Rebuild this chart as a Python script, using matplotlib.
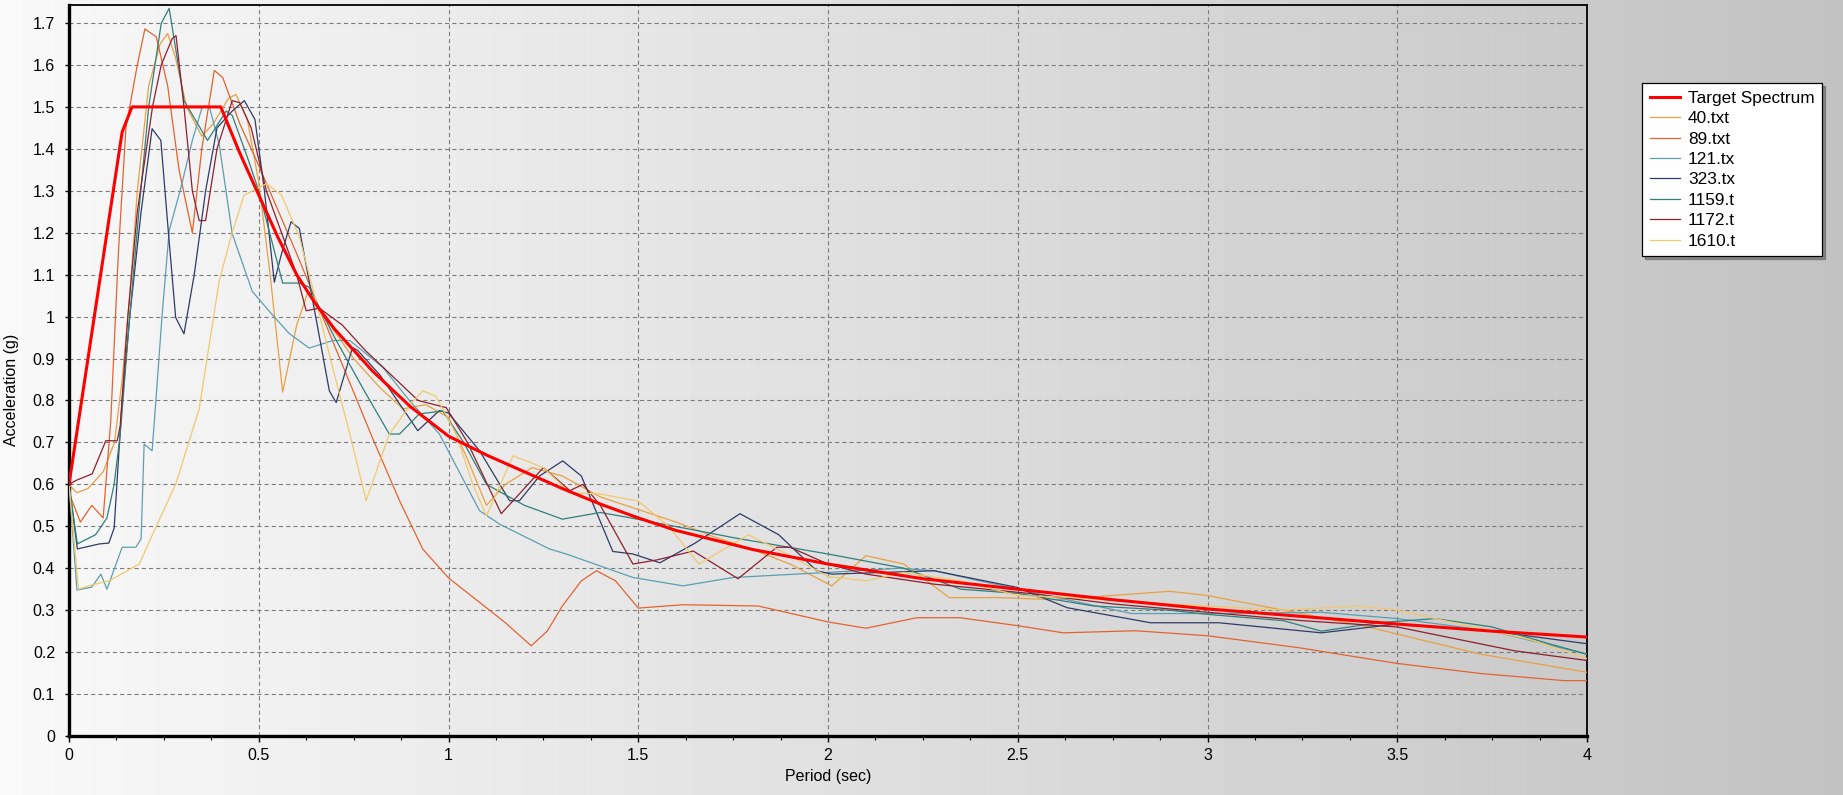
import numpy as np
import matplotlib
matplotlib.use("Agg")
import matplotlib.pyplot as plt
from matplotlib.lines import Line2D

# ── Data ──────────────────────────────────────────────────────────────────────
T_TARGET  = [0.0, 0.14, 0.166, 0.40, 0.45, 0.50, 0.55, 0.60, 0.65, 0.70, 0.75, 0.80, 0.90,
             1.00, 1.10, 1.20, 1.30, 1.40, 1.50, 1.60, 1.80, 2.00, 2.25, 2.50, 2.75, 3.00,
             3.25, 3.50, 3.75, 4.00]
SA_TARGET = [0.60, 1.44, 1.50, 1.50, 1.39, 1.29, 1.19, 1.10, 1.03, 0.97, 0.92, 0.87, 0.785,
             0.715, 0.67, 0.63, 0.59, 0.553, 0.52, 0.49, 0.445, 0.41, 0.375, 0.35, 0.325, 0.303,
             0.285, 0.267, 0.25, 0.236]

T_40  = [0.0, 0.02, 0.05, 0.09, 0.12, 0.14, 0.16, 0.18, 0.21, 0.24, 0.26, 0.28, 0.31, 0.35, 0.38,
         0.42, 0.44, 0.47, 0.50, 0.53, 0.563, 0.60, 0.63, 0.68, 0.75, 0.82, 0.88, 0.94, 1.00, 1.05,
         1.10, 1.15, 1.22, 1.30, 1.40, 1.50, 1.60, 1.70, 1.80, 1.90, 2.01, 2.10, 2.20, 2.32, 2.45,
         2.60, 2.75, 2.90, 3.00, 3.20, 3.40, 3.50, 3.72, 3.85, 4.00]
SA_40 = [0.60, 0.58, 0.59, 0.63, 0.70, 0.85, 1.05, 1.30, 1.55, 1.65, 1.675, 1.62, 1.50, 1.43, 1.46,
         1.52, 1.53, 1.47, 1.32, 1.10, 0.82, 0.98, 1.06, 0.99, 0.90, 0.83, 0.78, 0.79, 0.76, 0.66,
         0.55, 0.60, 0.64, 0.62, 0.57, 0.54, 0.51, 0.475, 0.445, 0.41, 0.358, 0.43, 0.41, 0.33, 0.33,
         0.325, 0.335, 0.345, 0.335, 0.30, 0.265, 0.243, 0.195, 0.175, 0.152]

T_89  = [0.0, 0.03, 0.06, 0.09, 0.11, 0.13, 0.15, 0.18, 0.20, 0.23, 0.26, 0.29, 0.325, 0.35, 0.383,
         0.405, 0.45, 0.50, 0.60, 0.70, 0.80, 0.871, 0.932, 1.00, 1.08, 1.15, 1.218, 1.26, 1.30,
         1.35, 1.39, 1.44, 1.50, 1.618, 1.816, 2.00, 2.10, 2.234, 2.348, 2.50, 2.62, 2.81, 3.00,
         3.237, 3.50, 3.72, 3.94, 4.00]
SA_89 = [0.58, 0.51, 0.55, 0.52, 0.75, 1.15, 1.45, 1.60, 1.686, 1.667, 1.55, 1.35, 1.20, 1.40, 1.587,
         1.57, 1.46, 1.36, 1.15, 0.93, 0.71, 0.561, 0.446, 0.377, 0.32, 0.27, 0.215, 0.25, 0.31,
         0.37, 0.394, 0.37, 0.305, 0.313, 0.31, 0.272, 0.257, 0.282, 0.282, 0.263, 0.246, 0.251,
         0.239, 0.211, 0.173, 0.149, 0.132, 0.132]

T_121  = [0.0, 0.021, 0.06, 0.084, 0.10, 0.14, 0.176, 0.19, 0.198, 0.219, 0.229, 0.245, 0.264,
          0.295, 0.325, 0.351, 0.37, 0.396, 0.43, 0.483, 0.54, 0.58, 0.633, 0.695, 0.74, 0.827,
          0.897, 0.976, 1.082, 1.135, 1.266, 1.31, 1.486, 1.618, 1.75, 2.00, 2.19, 2.28, 2.50,
          2.80, 3.03, 3.30, 3.50, 3.75, 4.00]
SA_121 = [0.60, 0.348, 0.355, 0.386, 0.35, 0.45, 0.45, 0.47, 0.696, 0.68, 0.80, 1.00, 1.205,
          1.308, 1.42, 1.50, 1.50, 1.41, 1.198, 1.06, 1.00, 0.96, 0.925, 0.943, 0.943, 0.879,
          0.80, 0.72, 0.537, 0.505, 0.446, 0.434, 0.378, 0.358, 0.378, 0.39, 0.40, 0.394, 0.35,
          0.292, 0.292, 0.295, 0.28, 0.25, 0.195]

T_323  = [0.0, 0.022, 0.08, 0.105, 0.119, 0.14, 0.16, 0.19, 0.219, 0.242, 0.262, 0.281, 0.303,
          0.33, 0.36, 0.39, 0.43, 0.462, 0.49, 0.515, 0.541, 0.56, 0.585, 0.607, 0.65, 0.686,
          0.704, 0.747, 0.76, 0.82, 0.871, 0.919, 0.976, 1.00, 1.082, 1.161, 1.187, 1.24, 1.301,
          1.35, 1.433, 1.486, 1.557, 1.65, 1.768, 1.87, 1.97, 2.01, 2.28, 2.50, 2.63, 2.85, 3.03,
          3.30, 3.50, 3.75, 4.00]
SA_323 = [0.60, 0.446, 0.458, 0.46, 0.496, 0.80, 1.00, 1.25, 1.448, 1.42, 1.20, 0.998, 0.959,
          1.10, 1.30, 1.45, 1.49, 1.515, 1.47, 1.30, 1.082, 1.15, 1.226, 1.21, 1.00, 0.823,
          0.795, 0.926, 0.92, 0.86, 0.792, 0.728, 0.776, 0.77, 0.68, 0.561, 0.561, 0.62, 0.656,
          0.62, 0.44, 0.434, 0.413, 0.46, 0.53, 0.48, 0.394, 0.386, 0.394, 0.354, 0.306, 0.27,
          0.27, 0.246, 0.267, 0.25, 0.22]

T_1159  = [0.0, 0.022, 0.07, 0.10, 0.119, 0.135, 0.16, 0.185, 0.21, 0.243, 0.264, 0.303, 0.365,
           0.414, 0.43, 0.47, 0.50, 0.563, 0.607, 0.633, 0.70, 0.78, 0.844, 0.871, 0.923, 0.985,
           1.04, 1.10, 1.20, 1.30, 1.40, 1.48, 1.66, 1.75, 2.00, 2.20, 2.35, 2.50, 2.70, 2.90,
           3.00, 3.20, 3.30, 3.45, 3.60, 3.75, 3.90, 4.00]
SA_1159 = [0.60, 0.458, 0.48, 0.52, 0.60, 0.72, 1.00, 1.26, 1.50, 1.699, 1.735, 1.515, 1.42,
           1.49, 1.48, 1.38, 1.30, 1.08, 1.08, 1.07, 0.95, 0.82, 0.72, 0.72, 0.768, 0.775,
           0.70, 0.60, 0.55, 0.517, 0.533, 0.52, 0.489, 0.473, 0.434, 0.40, 0.35, 0.34, 0.31,
           0.30, 0.29, 0.275, 0.25, 0.27, 0.28, 0.26, 0.22, 0.195]

T_1172  = [0.0, 0.02, 0.061, 0.097, 0.127, 0.135, 0.155, 0.18, 0.22, 0.243, 0.272, 0.282, 0.303,
           0.325, 0.343, 0.36, 0.39, 0.43, 0.45, 0.48, 0.52, 0.56, 0.60, 0.625, 0.66, 0.72, 0.78,
           0.85, 0.92, 0.994, 1.05, 1.139, 1.25, 1.32, 1.354, 1.40, 1.486, 1.55, 1.645, 1.763,
           1.865, 1.90, 2.00, 2.10, 2.28, 2.53, 2.75, 3.00, 3.25, 3.50, 3.81, 4.00]
SA_1172 = [0.60, 0.61, 0.625, 0.704, 0.704, 0.74, 1.00, 1.25, 1.50, 1.60, 1.663, 1.67, 1.50,
           1.30, 1.229, 1.229, 1.40, 1.515, 1.51, 1.45, 1.30, 1.20, 1.10, 1.014, 1.02, 0.98, 0.92,
           0.86, 0.80, 0.783, 0.70, 0.53, 0.64, 0.585, 0.60, 0.55, 0.41, 0.42, 0.441, 0.375,
           0.45, 0.45, 0.41, 0.386, 0.362, 0.34, 0.315, 0.295, 0.275, 0.26, 0.203, 0.18]

T_1610  = [0.0, 0.025, 0.06, 0.106, 0.185, 0.23, 0.281, 0.343, 0.396, 0.43, 0.461, 0.52, 0.56,
           0.607, 0.65, 0.70, 0.74, 0.783, 0.844, 0.90, 0.932, 0.967, 1.02, 1.064, 1.10, 1.17,
           1.25, 1.32, 1.40, 1.50, 1.58, 1.66, 1.79, 1.90, 2.00, 2.10, 2.20, 2.35, 2.50, 2.65,
           2.80, 3.00, 3.20, 3.40, 3.50, 3.70, 3.85, 4.00]
SA_1610 = [0.60, 0.35, 0.36, 0.37, 0.41, 0.50, 0.60, 0.78, 1.086, 1.20, 1.289, 1.317, 1.29,
           1.19, 1.04, 0.86, 0.72, 0.561, 0.72, 0.79, 0.823, 0.81, 0.72, 0.60, 0.525, 0.668,
           0.64, 0.58, 0.577, 0.56, 0.50, 0.41, 0.48, 0.43, 0.38, 0.37, 0.39, 0.37, 0.335, 0.33,
           0.32, 0.31, 0.30, 0.31, 0.30, 0.26, 0.23, 0.185]

RECORDS = [
    ("40.txt", T_40,   SA_40,   "#e9a042"),
    ("89.txt", T_89,   SA_89,   "#e3632f"),
    ("121.tx", T_121,  SA_121,  "#5c9fb2"),
    ("323.tx", T_323,  SA_323,  "#2f3b66"),
    ("1159.t", T_1159, SA_1159, "#2f7f7b"),
    ("1172.t", T_1172, SA_1172, "#8d1f30"),
    ("1610.t", T_1610, SA_1610, "#f2c86c"),
]

# ── Figure ────────────────────────────────────────────────────────────────────
plt.rcParams["font.family"] = ["Liberation Sans", "DejaVu Sans"]
plt.rcParams["lines.scale_dashes"] = False

fig = plt.figure(figsize=(18.43, 7.95), dpi=100)

# horizontal grey gradient behind everything
bg = fig.add_axes([0, 0, 1, 1], zorder=-10)
grad = np.linspace(0.975, 0.76, 512).reshape(1, -1)
bg.imshow(grad, aspect="auto", cmap="gray", vmin=0, vmax=1, extent=[0, 1, 0, 1])
bg.axis("off")

ax = fig.add_axes([69 / 1843, 59 / 795, 1518 / 1843, 731 / 795])
ax.set_facecolor("none")

for name, t, sa, col in RECORDS:
    ax.plot(t, sa, color=col, lw=0.9, zorder=3)
ax.plot(T_TARGET, SA_TARGET, color="#ff0000", lw=2.2, zorder=4)

ax.set_xlim(0, 4)
ax.set_ylim(0, 1.743)
ax.set_xticks(np.arange(0, 4.01, 0.5))
ax.set_xticks(np.arange(0, 4.01, 0.125), minor=True)
ax.set_yticks(np.arange(0, 1.71, 0.1))
ax.set_xticklabels([f"{v:g}" for v in np.arange(0, 4.01, 0.5)])
ax.set_yticklabels([f"{v:g}" for v in np.round(np.arange(0, 1.71, 0.1), 1)])

ax.grid(True, which="major", color="#7c7c7c", lw=0.8, linestyle=(0, (3, 2.2)))
ax.tick_params(axis="x", which="major", length=4.5, width=1, pad=4, labelsize=11.5, direction="out")
ax.tick_params(axis="x", which="minor", length=3, width=0.8, direction="out")
ax.tick_params(axis="y", which="major", length=3, width=1, pad=7, labelsize=11.5, direction="out")

for side, w in [("left", 2.4), ("bottom", 2.4), ("top", 1.3), ("right", 1.3)]:
    ax.spines[side].set_linewidth(w)
    ax.spines[side].set_color("black")

fig.text(828 / 1843, 1 - 777 / 795, "Period (sec)", ha="center", va="center", fontsize=11.5)
fig.text(12 / 1843, 1 - 390 / 795, "Acceleration (g)", ha="center", va="center",
         rotation=90, fontsize=11.5)

handles = [Line2D([], [], color="#ff0000", lw=2.2)]
labels = ["Target Spectrum"]
for name, t, sa, col in RECORDS:
    handles.append(Line2D([], [], color=col, lw=0.9))
    labels.append(name)

leg = fig.legend(handles, labels, loc="upper left", bbox_to_anchor=(1642 / 1843, 1 - 83 / 795),
                 fontsize=12.4, frameon=True, fancybox=False, shadow=True,
                 handlelength=1.75, handletextpad=0.47, labelspacing=0.31,
                 borderpad=0.45, borderaxespad=0)
leg.get_frame().set_edgecolor("black")
leg.get_frame().set_linewidth(0.9)
leg.get_frame().set_facecolor("white")

fig.savefig("out.png", dpi=100)
